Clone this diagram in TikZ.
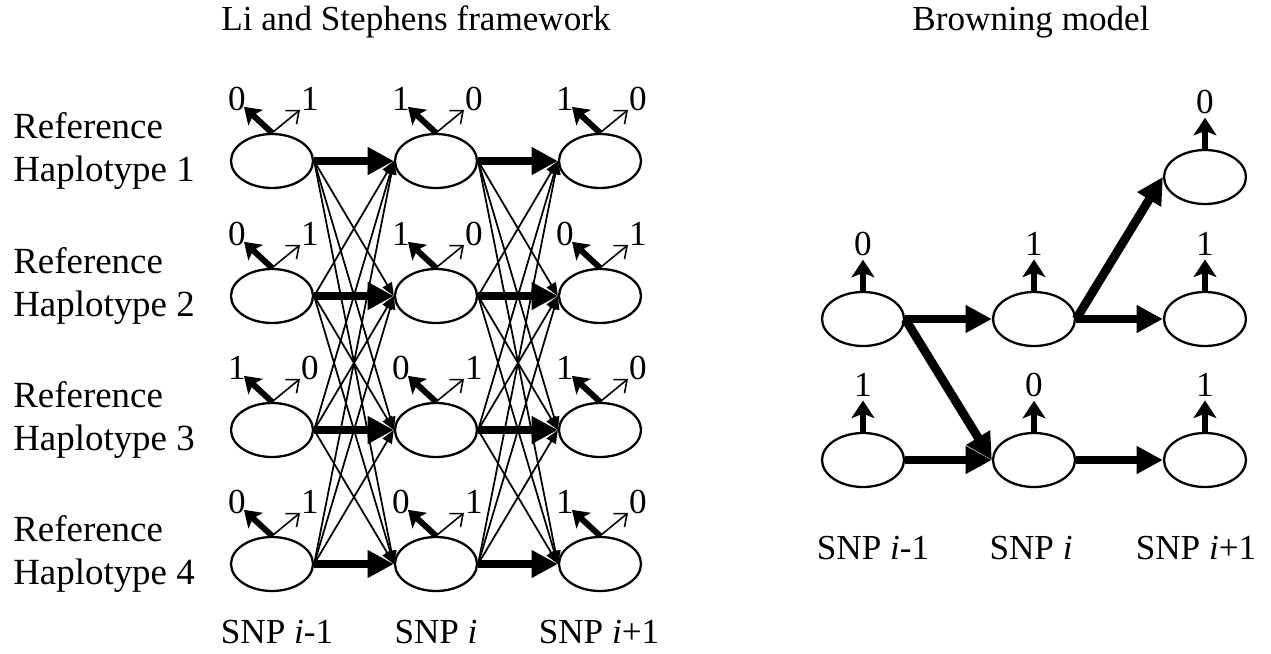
\documentclass[tikz,border=0pt]{standalone}
\usepackage{fontspec}
\setmainfont{Liberation Serif}
\usetikzlibrary{arrows.meta,shapes.geometric,calc}

\tikzset{
	state/.style={draw,ellipse,line width=1.3pt,minimum width=1.64cm,minimum height=1.08cm,inner sep=0pt},
	trans/.style={line width=5pt,-{Triangle[length=15pt,width=15pt]}},
	cross/.style={line width=1pt,-{Triangle[length=7.5pt,width=6pt]}},
	emitbig/.style={line width=3.4pt,-{Stealth[length=9pt,width=12pt,inset=2pt]}},
	emitsmall/.style={line width=0.9pt,-{Straight Barb[length=6pt,width=10pt]}},
	emitup/.style={line width=3.4pt,-{Stealth[length=10pt,width=13pt,inset=2.5pt]}},
	bit/.style={inner sep=1pt},
	txt/.style={inner sep=0pt}
}

\begin{document}
\begin{tikzpicture}[x=0.02cm,y=-0.02cm,font=\fontsize{20}{24}\selectfont]
	\useasboundingbox (0,0) rectangle (1271,653);

	% Li and Stephens
	\node[txt] (titleLS) at (416,22) {Li and Stephens framework};
	\foreach \r/\y in {1/161,2/296,3/430,4/564}{
		\node[txt,anchor=west,align=left,font=\fontsize{21}{24.5}\selectfont] (ref\r) at (13,\y-10) {Reference\\Haplotype \r};
		\foreach \c/\x in {1/272,2/436,3/600}
			\node[state] (L\r\c) at (\x,\y) {};
	}
	\foreach \r in {1,...,4}
		\foreach \s in {1,...,4}{
			\ifnum\r=\s
				\draw[trans] (L\r1.east) -- (L\s2.west);
				\draw[trans] (L\r2.east) -- (L\s3.west);
			\else
				\draw[cross] (L\r1.east) -- (L\s2.west);
				\draw[cross] (L\r2.east) -- (L\s3.west);
			\fi
		}
	\foreach \r/\c/\a/\b in {1/1/0/1,1/2/1/0,1/3/1/0,
	                          2/1/0/1,2/2/1/0,2/3/0/1,
	                          3/1/1/0,3/2/0/1,3/3/1/0,
	                          4/1/0/1,4/2/0/1,4/3/1/0}{
		\node[bit] (a\r\c) at ($(L\r\c)+(-35,-62)$) {\a};
		\node[bit] (b\r\c) at ($(L\r\c)+(38,-62)$) {\b};
		\draw[emitbig] (L\r\c.north) -- ++(-28,-26);
		\draw[emitsmall] (L\r\c.north) -- ++(28,-23);
	}
	\node[txt] (snpA) at (277,632) {SNP \textit{i}-1};
	\node[txt] (snpB) at (436,632) {SNP \textit{i}};
	\node[txt] (snpC) at (599,632) {SNP \textit{i}+1};

	% Browning
	\node[txt] (titleB) at (1031,22) {Browning model};
	\node[state] (B21) at (863,319) {};
	\node[state] (B31) at (863,460) {};
	\node[state] (B22) at (1034,319) {};
	\node[state] (B32) at (1034,460) {};
	\node[state] (B13) at (1205,177) {};
	\node[state] (B23) at (1205,319) {};
	\node[state] (B33) at (1205,460) {};
	\foreach \n/\v in {B21/0,B31/1,B22/1,B32/0,B13/0,B23/1,B33/1}{
		\node[bit,inner sep=2pt] (o\n) at ($(\n)+(0,-75)$) {\v};
		\draw[emitup] (\n.north) -- (o\n.south);
	}
	\draw[trans] (B21.east) -- (B22.west);
	\draw[trans] (B21.east) -- (B32.west);
	\draw[trans] (B31.east) -- (B32.west);
	\draw[trans] (B22.east) -- (B13.west);
	\draw[trans] (B22.east) -- (B23.west);
	\draw[trans] (B32.east) -- (B33.west);
	\node[txt] (snpD) at (873,548) {SNP \textit{i}-1};
	\node[txt] (snpE) at (1031,548) {SNP \textit{i}};
	\node[txt] (snpF) at (1196,548) {SNP \textit{i}+1};
\end{tikzpicture}
\end{document}
